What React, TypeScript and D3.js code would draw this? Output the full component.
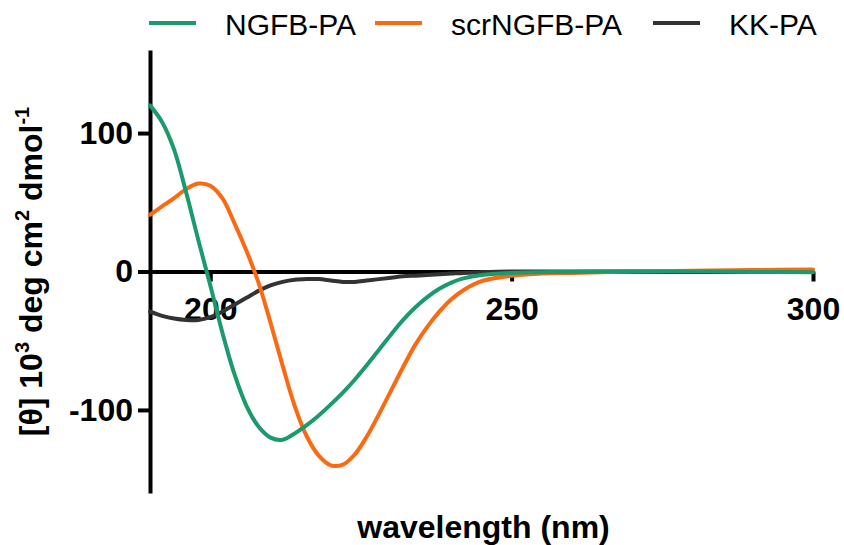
import React, { useEffect, useRef } from 'react';
import * as d3 from 'd3';

// wavelength grid (nm) and ellipticity values (10^3 deg cm2 dmol-1)
const wavelengths = [190, 192, 194, 196, 198, 200, 202, 204, 206, 208, 210, 212, 214, 216, 218, 220, 222, 224, 226, 228, 230, 232, 234, 236, 238, 240, 242, 245, 250, 255, 260, 270, 280, 290, 300];
const ngfbValues = [120, 108, 88, 57, 23, -10, -44, -74, -97, -112, -120, -121.5, -117, -111, -104, -96, -87.5, -78, -67.5, -56.5, -45.5, -35, -26, -18.5, -12.5, -8, -5, -2.5, -1, -0.5, -0.3, 0, 0, -0.3, -0.5];
const scrValues = [41, 47, 53, 59.5, 63.5, 62, 53, 35, 15, -8, -37, -68, -97, -119, -133, -140, -139.5, -132, -119, -103, -86, -69, -53, -40, -29, -20, -13.5, -7, -3, -1.5, -1, 0, 0.5, 1, 1.5];
const kkValues = [-29, -32, -34, -35, -35, -33, -29, -24, -19, -14, -10, -7.5, -6, -5.5, -5.5, -6.5, -7.5, -7.5, -6.5, -5.5, -4.5, -3.5, -3, -2.5, -2, -1.5, -1, -0.5, 0, 0, 0, 0, 0, 0, 0];

const seriesNames = ['NGFB-PA', 'scrNGFB-PA', 'KK-PA'];
const seriesColors = ['#1b9a6c', '#fa6a12', '#333333'];
const xTicks = [200, 250, 300];
const yTicks = [-100, 0, 100];

const FONT = '"Liberation Sans", Arial, Helvetica, sans-serif';

const CDChart = () => {
  const chartRef = useRef<SVGSVGElement | null>(null);

  useEffect(() => {
    const svg = d3.select(chartRef.current);
    svg.selectAll('*').remove();

    const xScale = d3.scaleLinear().domain([190, 300]).range([150, 813]);
    const yScale = d3.scaleLinear().domain([-160, 160]).range([493, 50]);

    const allSeries = [ngfbValues, scrValues, kkValues];
    const line = d3.line<number>()
      .x((d, i) => xScale(wavelengths[i]))
      .y(d => yScale(d))
      .curve(d3.curveCatmullRom.alpha(0.5));

    // x axis sits on the zero line
    const xAxis = d3.axisBottom(xScale)
      .tickValues(xTicks)
      .tickSizeInner(10)
      .tickSizeOuter(0)
      .tickPadding(16)
      .tickFormat(d => `${d}`);
    const gx = svg.append('g')
      .attr('transform', `translate(0, ${yScale(0)})`)
      .call(xAxis);
    gx.select('.domain').attr('stroke', '#000').attr('stroke-width', 4);
    gx.selectAll('.tick line').attr('stroke', '#000').attr('stroke-width', 4);
    gx.selectAll('.tick text')
      .attr('fill', '#000')
      .style('font-family', FONT)
      .style('font-size', '32px')
      .style('font-weight', 'bold');

    const yAxis = d3.axisLeft(yScale)
      .tickValues(yTicks)
      .tickSizeInner(12)
      .tickSizeOuter(0)
      .tickPadding(5)
      .tickFormat(d => `${d}`);
    const gy = svg.append('g')
      .attr('transform', `translate(${xScale(190)}, 0)`)
      .call(yAxis);
    gy.select('.domain').attr('stroke', '#000').attr('stroke-width', 4);
    gy.selectAll('.tick line').attr('stroke', '#000').attr('stroke-width', 4);
    gy.selectAll('.tick text')
      .attr('fill', '#000')
      .style('font-family', FONT)
      .style('font-size', '32px')
      .style('font-weight', 'bold');

    // curves, drawn so that NGFB-PA ends up on top
    [2, 1, 0].forEach(i => {
      svg.append('path')
        .datum(allSeries[i])
        .attr('d', line)
        .attr('fill', 'none')
        .attr('stroke', seriesColors[i])
        .attr('stroke-width', 4)
        .attr('stroke-linejoin', 'round')
        .attr('stroke-linecap', 'round');
    });

    // legend
    const legendX = [149, 375, 653];
    seriesNames.forEach((name, i) => {
      svg.append('line')
        .attr('x1', legendX[i]).attr('x2', legendX[i] + 47)
        .attr('y1', 23).attr('y2', 23)
        .attr('stroke', seriesColors[i])
        .attr('stroke-width', 4);
      svg.append('text')
        .attr('x', legendX[i] + 76)
        .attr('y', 35)
        .style('font-family', FONT)
        .style('font-size', '30px')
        .attr('fill', '#000')
        .text(name);
    });

    // axis titles
    svg.append('text')
      .attr('x', (xScale(190) + xScale(300)) / 2 + 2)
      .attr('y', 538)
      .attr('text-anchor', 'middle')
      .style('font-family', FONT)
      .style('font-size', '32px')
      .style('font-weight', 'bold')
      .text('wavelength (nm)');

    const yTitle = svg.append('text')
      .attr('transform', `translate(42, ${yScale(0)}) rotate(-90)`)
      .attr('text-anchor', 'middle')
      .style('font-family', FONT)
      .style('font-size', '32px')
      .style('font-weight', 'bold');
    yTitle.append('tspan').text('[θ] 10');
    yTitle.append('tspan').attr('dy', -13).style('font-size', '20px').text('3');
    yTitle.append('tspan').attr('dy', 13).text(' deg cm');
    yTitle.append('tspan').attr('dy', -13).style('font-size', '20px').text('2');
    yTitle.append('tspan').attr('dy', 13).text(' dmol');
    yTitle.append('tspan').attr('dy', -13).style('font-size', '20px').text('-1');
  }, []);

  return (
    <svg
      ref={chartRef}
      width={844}
      height={545}
      style={{ position: 'absolute', left: 0, top: 0, background: '#fff' }}
    />
  );
};

export default function App() {
  return <CDChart />;
}
